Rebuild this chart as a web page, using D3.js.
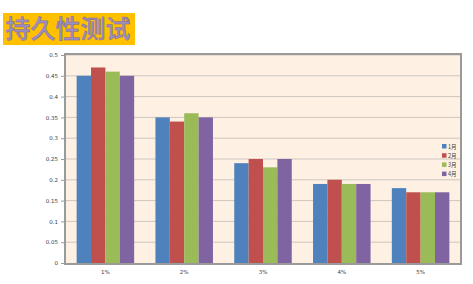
<!DOCTYPE html>
<html>
<head>
<meta charset="utf-8">
<script src="https://cdn.jsdelivr.net/npm/d3@7"></script>
<style>
  body { margin: 0; background: #fff; }
  svg { display: block; }
</style>
</head>
<body>
<svg id="chart" width="473" height="284"></svg>
<script>
// 持久性测试 - grouped bars

const categories = ['1%', '2%', '3%', '4%', '5%']
const seriesNames = ['1月', '2月', '3月', '4月']
const seriesValues = [
  [0.45, 0.35, 0.24, 0.19, 0.18],
  [0.47, 0.34, 0.25, 0.20, 0.17],
  [0.46, 0.36, 0.23, 0.19, 0.17],
  [0.45, 0.35, 0.25, 0.19, 0.17]
]
const yTicks = [0, 0.05, 0.1, 0.15, 0.2, 0.25, 0.3, 0.35, 0.4, 0.45, 0.5]
const colors = ['#4f81bd', '#c0504d', '#9bbb59', '#8064a2']

const svg = d3.select('#chart')
const plotLeft = 66
const plotRight = 460
const plotTop = 55
const plotBottom = 263

// title
svg.append('rect')
  .attr('x', 3).attr('y', 13).attr('width', 132).attr('height', 32)
  .attr('fill', '#ffc000')
svg.append('text')
  .attr('x', 68).attr('y', 38)
  .attr('text-anchor', 'middle')
  .attr('font-family', 'Noto Sans CJK SC')
  .attr('font-size', 25)
  .attr('font-weight', 500)
  .attr('fill', '#9f8fbf')
  .attr('stroke', '#75659a')
  .attr('stroke-width', 0.45)
  .text('持久性测试')

const x = d3.scaleBand().domain(categories).range([plotLeft, plotRight]).paddingInner(0.27).paddingOuter(0.135)
const xs = d3.scaleBand().domain(seriesNames).range([0, x.bandwidth()])
const y = d3.scaleLinear().domain([0, 0.5]).range([plotBottom, plotTop])

// plot background
svg.append('rect')
  .attr('x', plotLeft).attr('y', plotTop).attr('width', plotRight - plotLeft).attr('height', plotBottom - plotTop)
  .attr('fill', '#fef1e4')

// grid
svg.append('g')
  .selectAll('line')
  .data(yTicks.slice(1))
  .join('line')
  .attr('x1', plotLeft).attr('x2', plotRight)
  .attr('y1', d => y(d)).attr('y2', d => y(d))
  .attr('stroke', '#cdc6bf')
  .attr('stroke-width', 1)

// bars
const groups = svg.append('g')
  .selectAll('g')
  .data(categories)
  .join('g')
  .attr('transform', d => `translate(${x(d)},0)`)

groups.selectAll('rect')
  .data((d, i) => seriesNames.map((s, j) => ({ s, v: seriesValues[j][i], j })))
  .join('rect')
  .attr('x', d => xs(d.s))
  .attr('width', xs.bandwidth())
  .attr('y', d => y(d.v))
  .attr('height', d => y(0) - y(d.v))
  .attr('fill', d => colors[d.j])

// frame
svg.append('rect')
  .attr('x', plotLeft - 1).attr('y', plotTop - 1).attr('width', plotRight - plotLeft + 2).attr('height', plotBottom - plotTop + 2)
  .attr('fill', 'none')
  .attr('stroke', '#9a9a9a')
  .attr('stroke-width', 2)

// y axis
const yAxis = svg.append('g')
  .attr('transform', `translate(${plotLeft - 2},0)`)
  .call(d3.axisLeft(y).tickValues(yTicks).tickFormat(d => String(+d.toFixed(2))).tickSize(3).tickPadding(3))
yAxis.select('.domain').remove()
yAxis.selectAll('line').attr('stroke', '#9a9a9a')
yAxis.selectAll('text')
  .attr('font-family', 'DejaVu Sans')
  .attr('font-size', 5.5)
  .attr('fill', '#404040')

// x axis
const xAxis = svg.append('g')
  .attr('transform', `translate(0,${plotBottom + 1})`)
  .call(d3.axisBottom(x).tickSize(0).tickPadding(6))
xAxis.select('.domain').remove()
xAxis.selectAll('text')
  .attr('font-family', 'DejaVu Sans')
  .attr('font-size', 5.5)
  .attr('fill', '#404040')

// legend
const legend = svg.append('g')
  .selectAll('g')
  .data(seriesNames)
  .join('g')
  .attr('transform', (d, i) => `translate(442,${144 + i * 9.2})`)
legend.append('rect')
  .attr('width', 4.5).attr('height', 4.5)
  .attr('fill', (d, i) => colors[i])
legend.append('text')
  .attr('x', 6).attr('y', 4.5)
  .attr('font-family', 'Noto Sans CJK SC')
  .attr('font-size', 5.5)
  .attr('fill', '#404040')
  .text(d => d)
</script>
</body>
</html>
